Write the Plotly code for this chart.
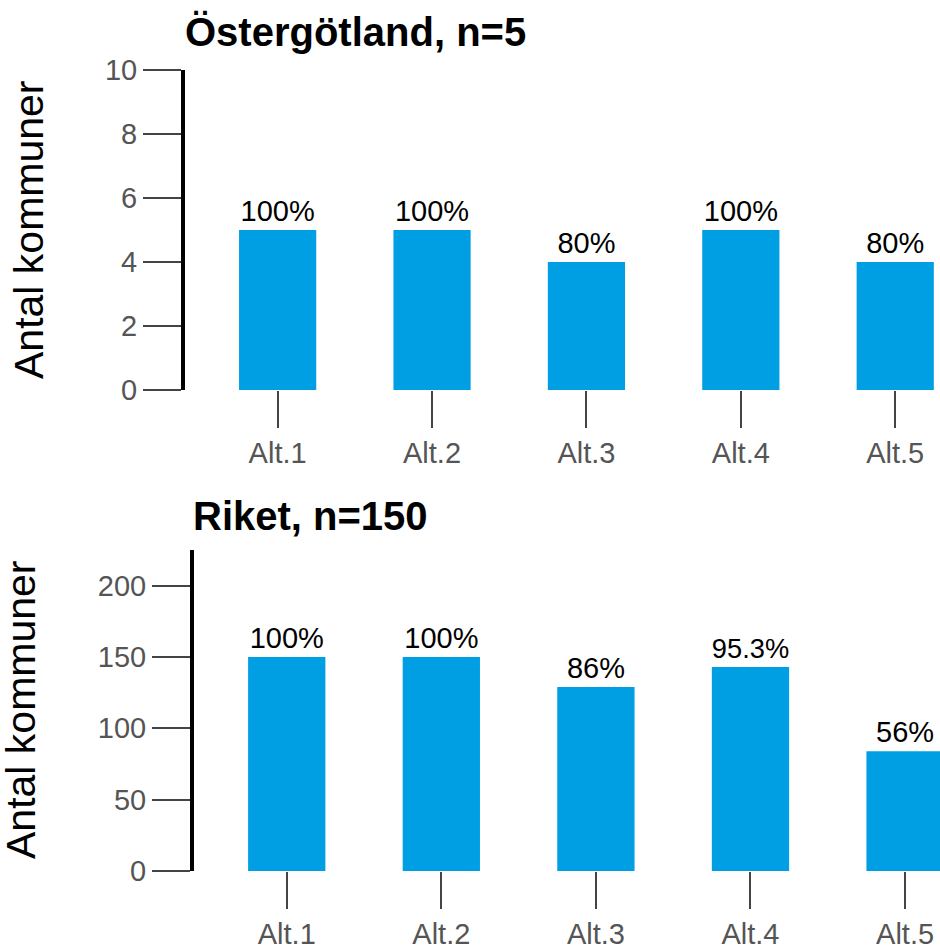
import plotly.graph_objects as go

W, H = 940, 947

categories = ["Alt.1", "Alt.2", "Alt.3", "Alt.4", "Alt.5"]
ost_values = [5, 5, 4, 5, 4]
ost_labels = ["100%", "100%", "80%", "100%", "80%"]
riket_values = [150, 150, 129, 143, 84]
riket_labels = ["100%", "100%", "86%", "95.3%", "56%"]
ost_title = "Östergötland, n=5"
riket_title = "Riket, n=150"
y_title = "Antal kommuner"

BAR = "#009FE3"
FONT = "Liberation Sans, Arial, sans-serif"

def px_x(p):
    return p / W

def px_y(p):
    return 1 - p / H

fig = go.Figure()
fig.add_trace(go.Bar(x=categories, y=ost_values, text=ost_labels, textposition="outside",
                     marker=dict(color=BAR, line=dict(width=0)), width=0.5,
                     textfont=dict(size=29, color="black", family=FONT),
                     cliponaxis=False, xaxis="x", yaxis="y", showlegend=False))
fig.add_trace(go.Bar(x=categories, y=riket_values, text=riket_labels, textposition="outside",
                     marker=dict(color=BAR, line=dict(width=0)), width=0.5,
                     textfont=dict(size=29, color="black", family=FONT),
                     cliponaxis=False, xaxis="x2", yaxis="y2", showlegend=False))

tickfont = dict(size=29, color="#555555", family=FONT)
common_x = dict(type="category", showline=False, showgrid=False, zeroline=False, automargin=False,
                ticks="outside", ticklen=37, tickwidth=2, tickcolor="#444444",
                tickfont=tickfont, fixedrange=True)
common_y = dict(showline=True, linewidth=4, linecolor="black", showgrid=False, zeroline=False,
                automargin=False,
                ticks="outside", ticklen=38, tickwidth=2, tickcolor="#444444",
                tickfont=tickfont, fixedrange=True)

fig.update_layout(
    template="none",
    width=W, height=H,
    margin=dict(l=0, r=0, t=0, b=0, pad=0),
    paper_bgcolor="white", plot_bgcolor="white",
    font=dict(family=FONT),
    xaxis=dict(common_x, domain=[px_x(185), 1], range=[-0.6, 4.29], anchor="y"),
    yaxis=dict(common_y, domain=[px_y(390), px_y(70)], range=[0, 10], dtick=2, anchor="x"),
    xaxis2=dict(common_x, domain=[px_x(194), 1], range=[-0.6, 4.226], anchor="y2"),
    yaxis2=dict(common_y, domain=[px_y(871), px_y(550)], range=[0, 225], tickvals=[0, 50, 100, 150, 200], anchor="x2"),
)

annotations = [
    dict(text="<b>" + ost_title + "</b>", x=px_x(183), y=px_y(32), xref="paper", yref="paper",
         xanchor="left", yanchor="middle", showarrow=False, font=dict(size=40, color="black", family=FONT)),
    dict(text="<b>" + riket_title + "</b>", x=px_x(191), y=px_y(516), xref="paper", yref="paper",
         xanchor="left", yanchor="middle", showarrow=False, font=dict(size=40, color="black", family=FONT)),
    dict(text=y_title, x=px_x(29), y=px_y(230), xref="paper", yref="paper", textangle=-90,
         xanchor="center", yanchor="middle", showarrow=False, font=dict(size=41, color="black", family=FONT)),
    dict(text=y_title, x=px_x(21), y=px_y(710), xref="paper", yref="paper", textangle=-90,
         xanchor="center", yanchor="middle", showarrow=False, font=dict(size=41, color="black", family=FONT)),
]
fig.update_layout(annotations=annotations)

fig.write_html("out.html",
               config={"displayModeBar": False, "staticPlot": True},
               post_script="document.body.style.margin='0';document.body.style.overflow='hidden';")
